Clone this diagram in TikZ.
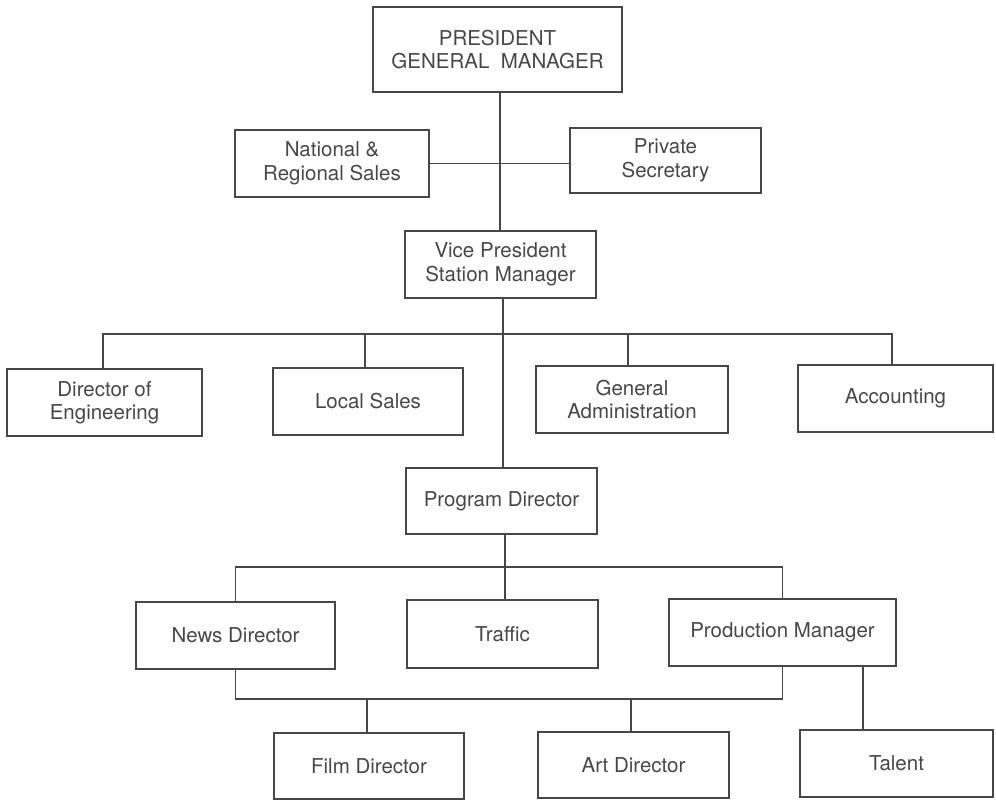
\documentclass[tikz,border=0pt]{standalone}
\usepackage{fontspec}
\setmainfont{TeX Gyre Heros}
\definecolor{ink}{gray}{0.28}
\begin{document}
\begin{tikzpicture}[x=1pt,y=-1pt,
  unit/.style={draw=ink, line width=1.4pt, rectangle, align=center,
    text=ink, inner sep=0pt,
    font=\fontsize{20.5}{23.5}\selectfont},
  link/.style={draw=ink, line width=1.3pt}]
\useasboundingbox (0,0) rectangle (996,801);

% top management
\node[unit, minimum width=249, minimum height=85] (pres) at (497.5,49.5) {PRESIDENT\\GENERAL\ \ MANAGER};
\node[unit, minimum width=194, minimum height=67] (nat) at (332,163.5) {National \&\\Regional Sales};
\node[unit, minimum width=191, minimum height=65] (priv) at (665.5,160.5) {Private\\Secretary};
\node[unit, minimum width=191, minimum height=67] (vp) at (500.5,264.5) {Vice President\\Station Manager};

% departments
\node[unit, minimum width=195, minimum height=67] (eng) at (104.5,402.5) {Director of\\Engineering};
\node[unit, minimum width=190, minimum height=67] (local) at (368,401.5) {Local Sales};
\node[unit, minimum width=192, minimum height=67] (admin) at (632,399.5) {General\\Administration};
\node[unit, minimum width=195, minimum height=67] (acct) at (895.5,398.5) {Accounting};

% programming
\node[unit, minimum width=191, minimum height=66] (prog) at (501.5,501) {Program Director};
\node[unit, minimum width=199, minimum height=67] (news) at (235.5,635.5) {News Director};
\node[unit, minimum width=191, minimum height=68] (traffic) at (502.5,634) {Traffic};
\node[unit, minimum width=227, minimum height=67] (pm) at (782.5,632.5) {Production Manager};
\node[unit, minimum width=190, minimum height=66] (film) at (369,766) {Film Director};
\node[unit, minimum width=191, minimum height=66] (art) at (633.5,765) {Art Director};
\node[unit, minimum width=193, minimum height=67] (talent) at (896.5,763.5) {Talent};

% bus lines
\coordinate (deptbus) at (0,334);
\coordinate (progbus) at (0,567);
\coordinate (prodbus) at (0,699);

% connectors
\draw[link] ([xshift=2.5]pres.south) -- ([xshift=2.5]pres.south |- vp.north);
\draw[link] (nat.east) -- (nat.east -| priv.west);
\draw[link] ([xshift=2.5]vp.south) -- ([xshift=2.5]vp.south |- prog.north);
\draw[link] ([xshift=-1.5]eng.north) |- ([xshift=-3.5]acct.north |- deptbus) -- ([xshift=-3.5]acct.north);
\draw[link] ([xshift=-3]local.north) -- ([xshift=-3]local.north |- deptbus);
\draw[link] ([xshift=-4]admin.north) -- ([xshift=-4]admin.north |- deptbus);
\draw[link] ([xshift=3.5]prog.south) -- ([xshift=3.5]prog.south |- traffic.north);
\draw[link] (news.north) |- (pm.north |- progbus) -- (pm.north);
\draw[link] (news.south) |- (pm.south |- prodbus) -- (pm.south);
\draw[link] ([xshift=-2]film.north) -- ([xshift=-2]film.north |- prodbus);
\draw[link] ([xshift=-2.5]art.north) -- ([xshift=-2.5]art.north |- prodbus);
\draw[link] ([xshift=80.5]pm.south) -- ([xshift=80.5]pm.south |- talent.north);
\end{tikzpicture}
\end{document}
